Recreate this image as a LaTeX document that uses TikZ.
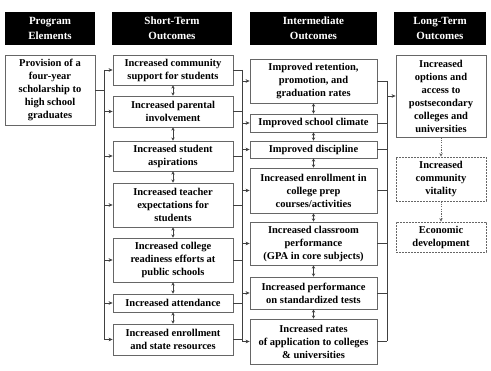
\documentclass[tikz,border=0pt]{standalone}
\usepackage{fontspec}
\setmainfont{Liberation Serif}
\usetikzlibrary{arrows.meta,calc}
\begin{document}
\begin{tikzpicture}[x=1pt,y=-1pt,
  every node/.style={font=\bfseries\fontsize{10.5}{13}\selectfont, align=center, inner sep=0pt},
  head/.style={fill=black, text=white, font=\bfseries\fontsize{11}{15}\selectfont, minimum height=33pt},
  box/.style={draw=black!60, line width=0.8pt, fill=white},
  dbox/.style={draw=black!60, line width=0.7pt, dash pattern=on 1.6pt off 1.4pt},
  link/.style={draw=black!75, line width=0.6pt},
  arr/.style={link, -{Stealth[length=4pt,width=3.6pt]}},
  darr/.style={link, {Stealth[length=3.2pt,width=3.4pt]}-{Stealth[length=3.2pt,width=3.4pt]}},
  dotarr/.style={draw=black!60, line width=0.6pt, dash pattern=on 1.2pt off 1.2pt, -{Stealth[length=3.6pt,width=3.4pt]}}
]
\useasboundingbox (0,0) rectangle (491,371);

% column headers
\node[head, minimum width=90pt]  (hp) at (50,28.5)    {Program\\Elements};
\node[head, minimum width=120pt] (hs) at (172,28.5)   {Short-Term\\Outcomes};
\node[head, minimum width=127pt] (hi) at (313.5,28.5) {Intermediate\\Outcomes};
\node[head, minimum width=92pt]  (hl) at (440,28.5)   {Long-Term\\Outcomes};

% program element
\node[box, minimum width=90pt, minimum height=70pt] (p) at (50,90)
  {Provision of a\\four-year\\scholarship to\\high school\\graduates};

% short-term outcomes
\node[box, minimum width=120pt, minimum height=30pt] (s1) at (173,70)    {Increased community\\support for students};
\node[box, minimum width=120pt, minimum height=31pt] (s2) at (173,111.5) {Increased parental\\involvement};
\node[box, minimum width=120pt, minimum height=30pt] (s3) at (173,156)   {Increased student\\aspirations};
\node[box, minimum width=120pt, minimum height=44pt] (s4) at (173,205)   {Increased teacher\\expectations for\\students};
\node[box, minimum width=120pt, minimum height=44pt] (s5) at (173,260)   {Increased college\\readiness efforts at\\public schools};
\node[box, minimum width=120pt, minimum height=18pt] (s6) at (173,303)   {Increased attendance};
\node[box, minimum width=120pt, minimum height=31pt] (s7) at (173,339.5) {Increased enrollment\\and state resources};

% intermediate outcomes
\node[box, minimum width=127pt, minimum height=44pt] (i1) at (313.5,81)    {Improved retention,\\promotion, and\\graduation rates};
\node[box, minimum width=127pt, minimum height=18pt] (i2) at (313.5,123)   {Improved school climate};
\node[box, minimum width=127pt, minimum height=17pt] (i3) at (313.5,149.5) {Improved discipline};
\node[box, minimum width=127pt, minimum height=45pt] (i4) at (313.5,190.5) {Increased enrollment in\\college prep\\courses/activities};
\node[box, minimum width=127pt, minimum height=43pt] (i5) at (313.5,243.5) {Increased classroom\\performance\\(GPA in core subjects)};
\node[box, minimum width=127pt, minimum height=32pt] (i6) at (313.5,293)   {Increased performance\\on standardized tests};
\node[box, minimum width=127pt, minimum height=45pt] (i7) at (313.5,341.5) {Increased rates\\of application to colleges\\\& universities};

% long-term outcomes
\node[box,  minimum width=90pt, minimum height=82pt] (l1) at (441,96)  {Increased\\options and\\access to\\postsecondary\\colleges and\\universities};
\node[dbox, minimum width=90pt, minimum height=44pt] (l2) at (441,179) {Increased\\community\\vitality};
\node[dbox, minimum width=90pt, minimum height=30pt] (l3) at (441,237) {Economic\\development};

% bus lines
\coordinate (busL) at (104,0);
\coordinate (busM) at (242,0);
\coordinate (busR) at (387,0);

% program -> short-term
\draw[link] (p.east) -- (p.east -| busL);
\draw[link] (s1.west -| busL) -- (s7.west -| busL);
\foreach \n in {s1,s2,s3,s4,s5,s6,s7}
  \draw[arr] (\n.west -| busL) -- (\n.west);

% short-term -> intermediate
\foreach \n in {s1,s2,s3,s4,s5,s6,s7}
  \draw[link] (\n.east) -- (\n.east -| busM);
\draw[link] (s1.east -| busM) -- (i7.west -| busM);
\foreach \n in {i1,i2,i3,i4,i5,i6,i7}
  \draw[arr] (\n.west -| busM) -- (\n.west);

% intermediate -> long-term
\foreach \n in {i1,i2,i3,i4,i5,i6,i7}
  \draw[link] (\n.east) -- (\n.east -| busR);
\draw[link] (i1.east -| busR) -- (i7.east -| busR);
\draw[arr] (l1.west -| busR) -- (l1.west);

% links between neighbouring outcomes
\foreach \a/\b in {s1/s2,s2/s3,s3/s4,s4/s5,s5/s6,s6/s7,i1/i2,i2/i3,i3/i4,i4/i5,i5/i6,i6/i7}
  \draw[darr] (\a.south) -- (\b.north);

% long-term chain
\draw[dotarr] (l1.south) -- (l2.north);
\draw[dotarr] (l2.south) -- (l3.north);
\end{tikzpicture}
\end{document}
